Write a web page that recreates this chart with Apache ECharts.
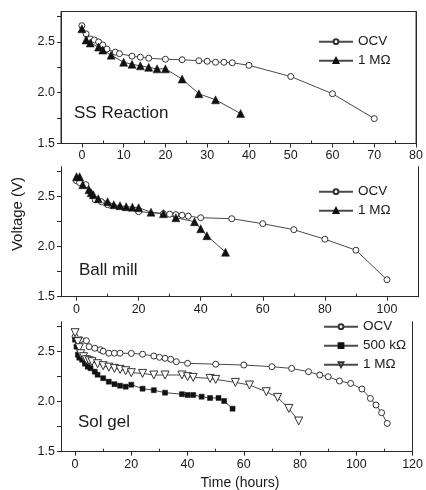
<!DOCTYPE html>
<html>
<head>
<meta charset="utf-8">
<script src="https://cdn.jsdelivr.net/npm/echarts@6/dist/echarts.min.js"></script>
<style>
  html, body { margin: 0; padding: 0; background: #fff; }
  #chart { width: 426px; height: 490px; }
</style>
</head>
<body>
<div id="chart"></div>
<script>
// Discharge curves (cell voltage vs. time) for three preparation routes.

// --- SS Reaction ---
const ssOcvTime = [0, 1, 2, 3, 4, 5, 6, 8, 9, 12, 14, 16, 20, 24, 28, 30, 32, 34, 36, 40, 50, 60, 70];
const ssOcvVolt = [2.66, 2.58, 2.53, 2.52, 2.50, 2.47, 2.43, 2.40, 2.385, 2.36, 2.35, 2.34, 2.33, 2.325, 2.315, 2.31, 2.30, 2.30, 2.295, 2.27, 2.16, 1.99, 1.745];
const ss1MTime = [0, 1, 2, 4, 5, 7, 10, 12, 14, 16, 18, 20, 24, 28, 32, 38];
const ss1MVolt = [2.63, 2.52, 2.49, 2.45, 2.42, 2.37, 2.30, 2.28, 2.265, 2.25, 2.235, 2.235, 2.135, 1.99, 1.93, 1.795];

// --- Ball mill ---
const bmOcvTime = [0, 1, 3, 6, 8, 10, 20, 28, 30, 32, 34, 36, 40, 50, 60, 70, 80, 90, 100];
const bmOcvVolt = [2.66, 2.64, 2.62, 2.47, 2.45, 2.42, 2.35, 2.33, 2.325, 2.32, 2.315, 2.305, 2.29, 2.28, 2.23, 2.17, 2.075, 1.965, 1.67];
const bm1MTime = [0, 1, 2, 4, 4.7, 5.4, 7, 10, 12, 14, 16, 18, 20, 24, 28, 32, 38, 40, 42, 48];
const bm1MVolt = [2.70, 2.70, 2.62, 2.57, 2.54, 2.52, 2.48, 2.45, 2.42, 2.41, 2.40, 2.395, 2.39, 2.345, 2.33, 2.29, 2.25, 2.18, 2.11, 1.945];

// --- Sol gel ---
const sgOcvTime = [0, 2, 4, 5, 7, 9, 10, 12, 14, 16, 20, 24, 28, 30, 32, 34, 36, 40, 50, 60, 70, 77, 83, 87, 90, 94, 98, 102, 105, 107, 109, 111];
const sgOcvVolt = [2.65, 2.62, 2.61, 2.55, 2.535, 2.52, 2.505, 2.485, 2.485, 2.485, 2.483, 2.475, 2.457, 2.444, 2.434, 2.424, 2.40, 2.384, 2.375, 2.367, 2.35, 2.333, 2.30, 2.267, 2.25, 2.207, 2.183, 2.127, 2.033, 1.967, 1.89, 1.783];
const sg500kTime = [0, 0.5, 1, 1.5, 2.5, 3.5, 4.5, 5.5, 7, 8, 10, 12, 14, 16, 18, 20, 24, 28, 32, 38, 40, 42, 45, 48, 51, 53, 56];
const sg500kVolt = [2.62, 2.55, 2.47, 2.44, 2.42, 2.38, 2.35, 2.335, 2.30, 2.27, 2.235, 2.20, 2.175, 2.16, 2.15, 2.17, 2.13, 2.115, 2.09, 2.075, 2.067, 2.067, 2.05, 2.037, 2.037, 2.007, 1.93];
const sg1MTime = [0, 1, 1.5, 2, 3, 4, 5, 6, 8, 10, 12, 14, 16, 18, 20, 24, 28, 32, 38, 40, 42, 48, 50, 57, 62, 68, 72, 76, 79.5];
const sg1MVolt = [2.69, 2.60, 2.54, 2.48, 2.45, 2.42, 2.41, 2.40, 2.38, 2.36, 2.345, 2.333, 2.323, 2.31, 2.29, 2.283, 2.267, 2.267, 2.267, 2.25, 2.243, 2.233, 2.223, 2.193, 2.167, 2.10, 2.043, 1.933, 1.807];

// --- Axis ticks ---
const yTickValues = [1.5, 2.0, 2.5];
const yMinorValues = [1.75, 2.25, 2.75];
const ssXTicks = [0, 10, 20, 30, 40, 50, 60, 70, 80];
const ssXMinor = [5, 15, 25, 35, 45, 55, 65, 75];
const bmXTicks = [0, 20, 40, 60, 80, 100];
const bmXMinor = [10, 30, 50, 70, 90];
const sgXTicks = [0, 20, 40, 60, 80, 100, 120];
const sgXMinor = [10, 30, 50, 70, 90, 110];

const panelLabels = ['SS Reaction', 'Ball mill', 'Sol gel'];

const FONT = '"Liberation Sans", Arial, Helvetica, sans-serif';
const INK = '#1a1a1a';
const AXIS = '#2a2a2a';
const LINE = '#4a4a4a';

const xMax = [80, 110, 120];
const xTicks = [ssXTicks, bmXTicks, sgXTicks];
const xMinor = [ssXMinor, bmXMinor, sgXMinor];

const grids = [
  { left: 61, width: 357, top: 11.5, height: 132, show: true, borderColor: AXIS, borderWidth: 1, backgroundColor: 'transparent' },
  { left: 61, width: 357, top: 166.7, height: 130 },
  { left: 61, width: 357, top: 321.7, height: 130 }
];

const xAxes = [];
const yAxes = [];
for (let i = 0; i < 3; i++) {
  // main bottom axis: line, outward major ticks, labels
  xAxes.push({
    type: 'value', gridIndex: i, position: 'bottom', min: -5, max: xMax[i],
    axisLine: { show: true, onZero: false, lineStyle: { color: AXIS, width: 1 } },
    axisTick: { show: true, inside: false, length: 4, customValues: xTicks[i], lineStyle: { color: AXIS } },
    axisLabel: { show: true, customValues: xTicks[i], margin: 6, fontSize: 12.5, fontFamily: FONT, color: INK,
      formatter: v => String(v) },
    splitLine: { show: false }
  });
  // minor ticks pointing into the plot
  xAxes.push({
    type: 'value', gridIndex: i, position: 'bottom', min: -5, max: xMax[i],
    axisLine: { show: false, onZero: false },
    axisTick: { show: true, inside: true, length: 3, customValues: xMinor[i], lineStyle: { color: AXIS } },
    axisLabel: { show: false },
    splitLine: { show: false }
  });
  yAxes.push({
    type: 'value', gridIndex: i, position: 'left', min: 1.5, max: 2.8,
    axisLine: { show: true, onZero: false, lineStyle: { color: AXIS, width: 1 } },
    axisTick: { show: true, inside: false, length: 4, customValues: yTickValues.concat(yMinorValues), lineStyle: { color: AXIS } },
    axisLabel: { show: true, customValues: yTickValues, margin: 6, fontSize: 12.5, fontFamily: FONT, color: INK,
      formatter: v => v.toFixed(1) },
    splitLine: { show: false }
  });
  // right-hand frame line
  yAxes.push({
    type: 'value', gridIndex: i, position: 'right', min: 1.5, max: 2.8,
    axisLine: { show: true, onZero: false, lineStyle: { color: AXIS, width: 1 } },
    axisTick: { show: false }, axisLabel: { show: false }, splitLine: { show: false }
  });
}

function pairs(xs, ys) { return xs.map((x, k) => [x, ys[k]]); }

const invTriangle = 'path://M0,0 L10,0 L5,9 Z';

function makeSeries(name, panel, xs, ys, symbol, size, filled) {
  return {
    name: name, type: 'line',
    xAxisIndex: panel * 2, yAxisIndex: panel * 2,
    data: pairs(xs, ys),
    symbol: symbol, symbolSize: size, showAllSymbol: true,
    lineStyle: { color: LINE, width: 1 },
    itemStyle: filled
      ? { color: '#111', borderColor: '#111', borderWidth: 0.5 }
      : { color: '#fff', borderColor: '#333', borderWidth: 1 },
    emphasis: { disabled: true },
    animation: false
  };
}

const series = [
  makeSeries('OCV|ss', 0, ssOcvTime, ssOcvVolt, 'circle', 6, false),
  makeSeries('1 MΩ|ss', 0, ss1MTime, ss1MVolt, 'triangle', 8, true),
  makeSeries('OCV|bm', 1, bmOcvTime, bmOcvVolt, 'circle', 6, false),
  makeSeries('1 MΩ|bm', 1, bm1MTime, bm1MVolt, 'triangle', 8, true),
  makeSeries('OCV|sg', 2, sgOcvTime, sgOcvVolt, 'circle', 6, false),
  makeSeries('500 kΩ|sg', 2, sg500kTime, sg500kVolt, 'rect', 5, true),
  makeSeries('1 MΩ|sg', 2, sg1MTime, sg1MVolt, invTriangle, 8, false)
];

function legendAt(left, top, names) {
  return {
    left: left, top: top, orient: 'vertical', padding: 0,
    itemWidth: 34, itemHeight: 6, itemGap: 5, selectedMode: false,
    data: names,
    formatter: n => n.split('|')[0],
    textStyle: { fontSize: 13.5, fontFamily: FONT, color: INK, lineHeight: 14 }
  };
}

const option = {
  backgroundColor: '#fff',
  animation: false,
  grid: grids,
  xAxis: xAxes,
  yAxis: yAxes,
  series: series,
  legend: [
    legendAt(318, 34.7, ['OCV|ss', '1 MΩ|ss']),
    legendAt(318, 184.7, ['OCV|bm', '1 MΩ|bm']),
    legendAt(323, 319.7, ['OCV|sg', '500 kΩ|sg', '1 MΩ|sg'])
  ],
  graphic: [
    { type: 'text', left: 74, top: 105, style: { text: panelLabels[0], fontSize: 17, fontFamily: FONT, fill: INK } },
    { type: 'text', left: 79, top: 262, style: { text: panelLabels[1], fontSize: 17, fontFamily: FONT, fill: INK } },
    { type: 'text', left: 78, top: 414, style: { text: panelLabels[2], fontSize: 17, fontFamily: FONT, fill: INK } },
    { type: 'text', x: 18, y: 214, rotation: Math.PI / 2,
      style: { text: 'Voltage (V)', fontSize: 15, fontFamily: FONT, fill: INK, align: 'center', verticalAlign: 'middle' } },
    { type: 'text', x: 240, y: 483,
      style: { text: 'Time (hours)', fontSize: 14, fontFamily: FONT, fill: INK, align: 'center', verticalAlign: 'middle' } }
  ]
};

const chart = echarts.init(document.getElementById('chart'), null, { renderer: 'canvas' });
chart.setOption(option);
</script>
</body>
</html>
